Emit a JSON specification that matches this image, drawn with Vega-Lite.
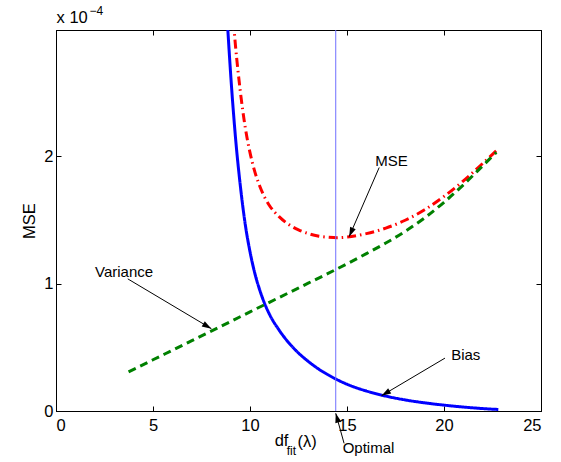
{
  "$schema": "https://vega.github.io/schema/vega-lite/v6.json",
  "width": 485,
  "height": 381,
  "autosize": {"type": "none"},
  "padding": {"left": 56, "top": 30, "right": 20, "bottom": 51},
  "background": "white",
  "config": {
    "view": {"stroke": "black", "strokeWidth": 1},
    "axis": {
      "domainColor": "black", "tickColor": "black", "labelColor": "black",
      "labelFont": "Liberation Sans", "labelFontSize": 16.5,
      "titleFont": "Liberation Sans", "titleFontSize": 16.5, "titleFontWeight": "normal", "titleColor": "black",
      "grid": false, "tickSize": -5
    },
    "text": {"font": "Liberation Sans", "color": "black"}
  },
  "datasets": {
    "curves": [
      {"series": "Bias", "df": 8.83, "value": 3.06},
      {"series": "Bias", "df": 9.0, "value": 2.65},
      {"series": "Bias", "df": 9.25, "value": 2.15},
      {"series": "Bias", "df": 9.5, "value": 1.77},
      {"series": "Bias", "df": 9.75, "value": 1.47},
      {"series": "Bias", "df": 10.0, "value": 1.25},
      {"series": "Bias", "df": 10.25, "value": 1.08},
      {"series": "Bias", "df": 10.5, "value": 0.95},
      {"series": "Bias", "df": 10.75, "value": 0.845},
      {"series": "Bias", "df": 11.0, "value": 0.76},
      {"series": "Bias", "df": 11.5, "value": 0.635},
      {"series": "Bias", "df": 12.0, "value": 0.535},
      {"series": "Bias", "df": 12.5, "value": 0.455},
      {"series": "Bias", "df": 13.0, "value": 0.39},
      {"series": "Bias", "df": 13.5, "value": 0.333},
      {"series": "Bias", "df": 14.0, "value": 0.286},
      {"series": "Bias", "df": 14.5, "value": 0.245},
      {"series": "Bias", "df": 15.0, "value": 0.21},
      {"series": "Bias", "df": 16.0, "value": 0.157},
      {"series": "Bias", "df": 17.0, "value": 0.117},
      {"series": "Bias", "df": 18.0, "value": 0.087},
      {"series": "Bias", "df": 19.0, "value": 0.064},
      {"series": "Bias", "df": 20.0, "value": 0.046},
      {"series": "Bias", "df": 21.0, "value": 0.031},
      {"series": "Bias", "df": 22.0, "value": 0.019},
      {"series": "Bias", "df": 22.8, "value": 0.012},
      {"series": "MSE", "df": 9.0, "value": 3.35},
      {"series": "MSE", "df": 9.25, "value": 2.87},
      {"series": "MSE", "df": 9.5, "value": 2.51},
      {"series": "MSE", "df": 9.75, "value": 2.23},
      {"series": "MSE", "df": 10.0, "value": 2.028},
      {"series": "MSE", "df": 10.25, "value": 1.877},
      {"series": "MSE", "df": 10.5, "value": 1.766},
      {"series": "MSE", "df": 10.75, "value": 1.679},
      {"series": "MSE", "df": 11.0, "value": 1.613},
      {"series": "MSE", "df": 11.5, "value": 1.525},
      {"series": "MSE", "df": 12.0, "value": 1.463},
      {"series": "MSE", "df": 12.5, "value": 1.421},
      {"series": "MSE", "df": 13.0, "value": 1.393},
      {"series": "MSE", "df": 13.5, "value": 1.373},
      {"series": "MSE", "df": 14.0, "value": 1.364},
      {"series": "MSE", "df": 14.5, "value": 1.36},
      {"series": "MSE", "df": 15.0, "value": 1.365},
      {"series": "MSE", "df": 16.0, "value": 1.392},
      {"series": "MSE", "df": 17.0, "value": 1.435},
      {"series": "MSE", "df": 18.0, "value": 1.497},
      {"series": "MSE", "df": 19.0, "value": 1.579},
      {"series": "MSE", "df": 20.0, "value": 1.684},
      {"series": "MSE", "df": 21.0, "value": 1.806},
      {"series": "MSE", "df": 22.0, "value": 1.944},
      {"series": "MSE", "df": 22.7, "value": 2.043},
      {"series": "Variance", "df": 3.74, "value": 0.307},
      {"series": "Variance", "df": 5.0, "value": 0.402},
      {"series": "Variance", "df": 6.0, "value": 0.477},
      {"series": "Variance", "df": 7.0, "value": 0.552},
      {"series": "Variance", "df": 8.0, "value": 0.627},
      {"series": "Variance", "df": 9.0, "value": 0.702},
      {"series": "Variance", "df": 10.0, "value": 0.778},
      {"series": "Variance", "df": 11.0, "value": 0.853},
      {"series": "Variance", "df": 12.0, "value": 0.928},
      {"series": "Variance", "df": 13.0, "value": 1.003},
      {"series": "Variance", "df": 14.0, "value": 1.078},
      {"series": "Variance", "df": 15.0, "value": 1.155},
      {"series": "Variance", "df": 16.0, "value": 1.235},
      {"series": "Variance", "df": 17.0, "value": 1.318},
      {"series": "Variance", "df": 18.0, "value": 1.41},
      {"series": "Variance", "df": 19.0, "value": 1.515},
      {"series": "Variance", "df": 20.0, "value": 1.638},
      {"series": "Variance", "df": 21.0, "value": 1.775},
      {"series": "Variance", "df": 22.0, "value": 1.925},
      {"series": "Variance", "df": 22.7, "value": 2.03}
    ],
    "optimal": [{"df": 14.42}],
    "notes": [
      {"label": "MSE", "x": 16.66, "y": 1.911, "x2": 15.11, "y2": 1.368, "tx": 17.29, "ty": 1.963},
      {"label": "Variance", "x": 3.7, "y": 1.037, "x2": 8.01, "y2": 0.646, "tx": 3.51, "ty": 1.089},
      {"label": "Bias", "x": 20.05, "y": 0.415, "x2": 16.78, "y2": 0.12, "tx": 21.12, "ty": 0.441},
      {"label": "Optimal", "x": 14.85, "y": -0.254, "x2": 14.42, "y2": -0.018, "tx": 16.11, "ty": -0.294}
    ],
    "bigtext": [
      {"t": "x 10", "x": 0.03, "y": 3.083},
      {"t": "df", "x": 11.27, "y": -0.236},
      {"t": "(λ)", "x": 12.45, "y": -0.24}
    ],
    "smalltext": [
      {"t": "−4", "x": 1.73, "y": 3.14},
      {"t": "fit", "x": 11.89, "y": -0.315}
    ]
  },
  "layer": [
    {
      "data": {"name": "curves"},
      "mark": {"type": "line", "strokeWidth": 3, "clip": true, "interpolate": "monotone"},
      "encoding": {
        "x": {"field": "df", "type": "quantitative", "scale": {"domain": [0, 25], "nice": false},
              "axis": {"orient": "bottom", "values": [0, 5, 10, 15, 20, 25], "title": null, "labelPadding": 11}},
        "y": {"field": "value", "type": "quantitative", "scale": {"domain": [0, 2.99], "nice": false},
              "axis": {"orient": "left", "values": [0, 1, 2], "title": "MSE", "labelPadding": 8, "titlePadding": 6}},
        "color": {"field": "series", "type": "nominal", "legend": null,
                  "scale": {"domain": ["Bias", "MSE", "Variance"], "range": ["#0000ff", "#ff0000", "#008000"]}},
        "strokeDash": {"field": "series", "type": "nominal", "legend": null,
                  "scale": {"domain": ["Bias", "MSE", "Variance"], "range": [[1, 0], [9, 4, 1.5, 4], [8, 5]]}}
      }
    },
    {
      "data": {"name": "optimal"},
      "mark": {"type": "rule", "color": "#7070ff", "strokeWidth": 1},
      "encoding": {
        "x": {"field": "df", "type": "quantitative", "scale": {"domain": [0, 25], "nice": false},
              "axis": {"orient": "top", "values": [0, 5, 10, 15, 20, 25], "labels": false, "title": null}}
      }
    },
    {
      "data": {"name": "notes"},
      "mark": {"type": "rule", "color": "black", "strokeWidth": 1},
      "encoding": {
        "x": {"field": "x", "type": "quantitative", "scale": {"domain": [0, 25], "nice": false}, "axis": null},
        "y": {"field": "y", "type": "quantitative", "scale": {"domain": [0, 2.99], "nice": false},
              "axis": {"orient": "right", "values": [0, 1, 2], "labels": false, "title": null}},
        "x2": {"field": "x2"},
        "y2": {"field": "y2"}
      }
    },
    {
      "data": {"name": "notes"},
      "transform": [{"filter": "datum.label == 'MSE'"}],
      "mark": {"type": "point", "shape": "M0,0L-0.32,1L0.32,1Z", "filled": true, "color": "black", "opacity": 1, "size": 360, "angle": 203.5},
      "encoding": {
        "x": {"field": "x2", "type": "quantitative", "scale": {"domain": [0, 25], "nice": false}, "axis": null},
        "y": {"field": "y2", "type": "quantitative", "scale": {"domain": [0, 2.99], "nice": false}, "axis": null}
      }
    },
    {
      "data": {"name": "notes"},
      "transform": [{"filter": "datum.label == 'Variance'"}],
      "mark": {"type": "point", "shape": "M0,0L-0.32,1L0.32,1Z", "filled": true, "color": "black", "opacity": 1, "size": 360, "angle": 120.8},
      "encoding": {
        "x": {"field": "x2", "type": "quantitative", "scale": {"domain": [0, 25], "nice": false}, "axis": null},
        "y": {"field": "y2", "type": "quantitative", "scale": {"domain": [0, 2.99], "nice": false}, "axis": null}
      }
    },
    {
      "data": {"name": "notes"},
      "transform": [{"filter": "datum.label == 'Bias'"}],
      "mark": {"type": "point", "shape": "M0,0L-0.32,1L0.32,1Z", "filled": true, "color": "black", "opacity": 1, "size": 360, "angle": 239.4},
      "encoding": {
        "x": {"field": "x2", "type": "quantitative", "scale": {"domain": [0, 25], "nice": false}, "axis": null},
        "y": {"field": "y2", "type": "quantitative", "scale": {"domain": [0, 2.99], "nice": false}, "axis": null}
      }
    },
    {
      "data": {"name": "notes"},
      "transform": [{"filter": "datum.label == 'Optimal'"}],
      "mark": {"type": "point", "shape": "M0,0L-0.32,1L0.32,1Z", "filled": true, "color": "black", "opacity": 1, "size": 360, "angle": 344.5},
      "encoding": {
        "x": {"field": "x2", "type": "quantitative", "scale": {"domain": [0, 25], "nice": false}, "axis": null},
        "y": {"field": "y2", "type": "quantitative", "scale": {"domain": [0, 2.99], "nice": false}, "axis": null}
      }
    },
    {
      "data": {"name": "notes"},
      "mark": {"type": "text", "fontSize": 15, "align": "center", "baseline": "middle"},
      "encoding": {
        "x": {"field": "tx", "type": "quantitative", "scale": {"domain": [0, 25], "nice": false}, "axis": null},
        "y": {"field": "ty", "type": "quantitative", "scale": {"domain": [0, 2.99], "nice": false}, "axis": null},
        "text": {"field": "label"}
      }
    },
    {
      "data": {"name": "bigtext"},
      "mark": {"type": "text", "fontSize": 16.5, "align": "left", "baseline": "middle"},
      "encoding": {
        "x": {"field": "x", "type": "quantitative", "scale": {"domain": [0, 25], "nice": false}, "axis": null},
        "y": {"field": "y", "type": "quantitative", "scale": {"domain": [0, 2.99], "nice": false}, "axis": null},
        "text": {"field": "t"}
      }
    },
    {
      "data": {"name": "smalltext"},
      "mark": {"type": "text", "fontSize": 12, "align": "left", "baseline": "middle"},
      "encoding": {
        "x": {"field": "x", "type": "quantitative", "scale": {"domain": [0, 25], "nice": false}, "axis": null},
        "y": {"field": "y", "type": "quantitative", "scale": {"domain": [0, 2.99], "nice": false}, "axis": null},
        "text": {"field": "t"}
      }
    }
  ],
  "resolve": {"axis": {"x": "independent", "y": "independent"}}
}
